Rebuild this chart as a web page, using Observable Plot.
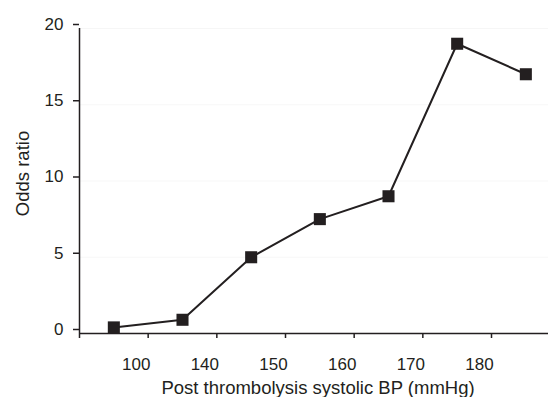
<!DOCTYPE html>
<html>
<head>
<meta charset="utf-8">
<script src="https://cdn.jsdelivr.net/npm/d3@7"></script>
<script src="https://cdn.jsdelivr.net/npm/@observablehq/plot@0.6"></script>
<style>
  html, body { margin: 0; padding: 0; background: #fff; }
  svg { display: block; }
</style>
</head>
<body>
<div id="chart"></div>
<script>
// Blood pressure bins (bin index) and odds ratios
const bins = [0, 1, 2, 3, 4, 5, 6];
const oddsRatios = [0.4, 0.9, 5, 7.5, 9, 19, 17];
// Bin-boundary tick labels (between bins)
const boundaryLabels = ["100", "140", "150", "160", "170", "180"];
const yTicks = [0, 5, 10, 15, 20];

const data = bins.map((b, i) => ({x: b + 0.5, y: oddsRatios[i]}));
const boundaryTicks = d3.range(0, boundaryLabels.length + 1);
const labelTicks = boundaryLabels.map((_, i) => i + 1);

const ink = "#231f20";
const font = "'Liberation Sans', Arial, sans-serif";

const chart = Plot.plot({
  width: 548,
  height: 397,
  marginTop: 28,
  marginBottom: 64,
  marginLeft: 79,
  marginRight: 0,
  style: {fontFamily: font, fontSize: "17px", color: ink, background: "#fff"},
  x: {domain: [0, 6.83]},
  y: {domain: [0, 20]},
  marks: [
    Plot.gridY([5, 10, 15, 20], {stroke: "#000", strokeOpacity: 0.035}),
    Plot.ruleY([0], {stroke: ink, strokeWidth: 1.5}),
    Plot.ruleX([0], {stroke: ink, strokeWidth: 1.5}),
    Plot.axisX({ticks: boundaryTicks, tickFormat: () => "", tickSize: 5, strokeWidth: 1.5, stroke: ink, label: null}),
    Plot.axisX({ticks: labelTicks, tickFormat: (d) => boundaryLabels[d - 1], tickSize: 0, tickPadding: 24, dx: -12, fill: ink, fontSize: 17, label: null}),
    Plot.axisY({ticks: yTicks, tickSize: 6, tickPadding: 10, dy: -4, stroke: ink, strokeWidth: 1.5, fill: ink, fontSize: 17, label: null}),
    Plot.text(["Odds ratio"], {frameAnchor: "left", textAnchor: "middle", rotate: -90, dx: -56, dy: -7.5, fill: ink, fontSize: 18.5}),
    Plot.text(["Post thrombolysis systolic BP (mmHg)"], {frameAnchor: "bottom", dy: 60, dx: 4, fill: ink, fontSize: 18.5}),
    Plot.line(data, {x: "x", y: "y", stroke: ink, strokeWidth: 2}),
    Plot.dot(data, {x: "x", y: "y", symbol: "square", r: 6.8, fill: ink, stroke: "none"})
  ]
});
document.getElementById("chart").append(chart);
</script>
</body>
</html>
